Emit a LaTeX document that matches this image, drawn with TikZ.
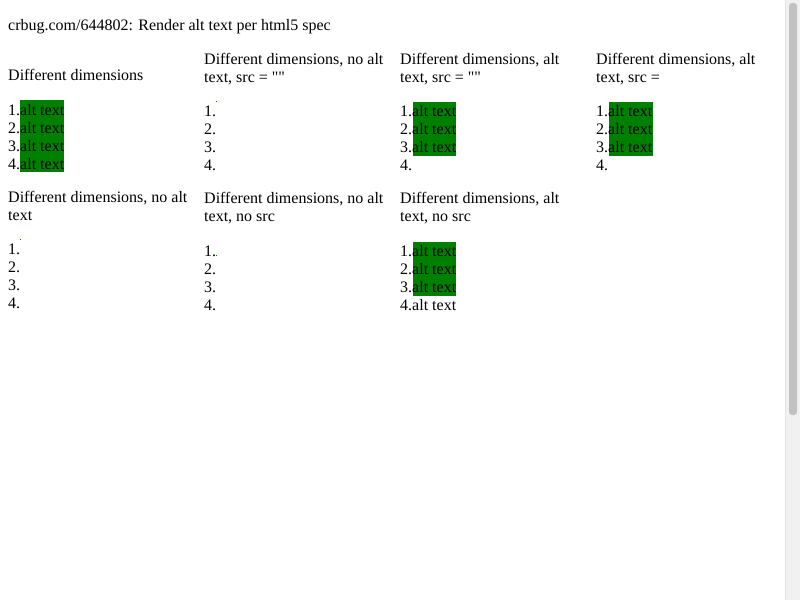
\documentclass[tikz,border=0pt]{standalone}
\usepackage{fontspec}
\setmainfont{Liberation Serif}
\newfontfamily\rawserif{Liberation Serif}
\definecolor{altgreen}{HTML}{008000}
\definecolor{track}{HTML}{F1F1F1}
\definecolor{trackline}{HTML}{E4E4E4}
\definecolor{thumb}{HTML}{C1C1C1}
\newcommand{\dq}{{\rawserif\symbol{34}}}
\tikzset{
  txt/.style={anchor=base west, inner sep=0pt, font=\fontsize{16}{18}\selectfont},
  gbox/.style={fill=altgreen, draw=none},
  gdot/.style={fill=altgreen, draw=none},
}
\begin{document}
\begin{tikzpicture}[x=1pt,y=-1pt]
\useasboundingbox (0,0) rectangle (800,600);
\fill[white] (0,0) rectangle (800,600);
% scrollbar
\fill[track] (785,0) rectangle (800,600);
\draw[trackline, line width=1pt] (785.5,0) -- (785.5,600);
\fill[thumb, rounded corners=3pt] (789,3) rectangle (797,415);
% title
\node[txt] (title) at (8,30) {crbug.com/644802: Render alt text per html5 spec};
% green boxes
\fill[gbox] (20,100) rectangle (64,172);
\fill[gbox] (413,102) rectangle (456,156);
\fill[gbox] (609,102) rectangle (653,156);
\fill[gbox] (413,242) rectangle (456,296);
% green dots
\fill[gdot] (216,101) rectangle (217,102);
\fill[gdot] (20,239) rectangle (21,240);
\fill[gdot] (216,255) rectangle (217,256);
% column 1 row 1
\node[txt] (h11) at (8,80) {Different dimensions};
\node[txt] (a1) at (8,115) {1.alt text};
\node[txt] (a2) at (8,133) {2.alt text};
\node[txt] (a3) at (8,151) {3.alt text};
\node[txt] (a4) at (8,169) {4.alt text};
% column 2 row 1
\node[txt] (h12a) at (204,64) {Different dimensions, no alt};
\node[txt] (h12b) at (204,82) {text, src = \dq\dq};
\node[txt] (b1) at (204,116) {1.};
\node[txt] (b2) at (204,134) {2.};
\node[txt] (b3) at (204,152) {3.};
\node[txt] (b4) at (204,170) {4.};
% column 3 row 1
\node[txt] (h13a) at (400,64) {Different dimensions, alt};
\node[txt] (h13b) at (400,82) {text, src = \dq\dq};
\node[txt] (c1) at (400,116) {1.alt text};
\node[txt] (c2) at (400,134) {2.alt text};
\node[txt] (c3) at (400,152) {3.alt text};
\node[txt] (c4) at (400,170) {4.};
% column 4 row 1
\node[txt] (h14a) at (596,64) {Different dimensions, alt};
\node[txt] (h14b) at (596,82) {text, src =};
\node[txt] (d1) at (596,116) {1.alt text};
\node[txt] (d2) at (596,134) {2.alt text};
\node[txt] (d3) at (596,152) {3.alt text};
\node[txt] (d4) at (596,170) {4.};
% column 1 row 2
\node[txt] (h21a) at (8,202) {Different dimensions, no alt};
\node[txt] (h21b) at (8,220) {text};
\node[txt] (e1) at (8,254) {1.};
\node[txt] (e2) at (8,272) {2.};
\node[txt] (e3) at (8,290) {3.};
\node[txt] (e4) at (8,308) {4.};
% column 2 row 2
\node[txt] (h22a) at (204,203) {Different dimensions, no alt};
\node[txt] (h22b) at (204,221) {text, no src};
\node[txt] (f1) at (204,256) {1.};
\node[txt] (f2) at (204,274) {2.};
\node[txt] (f3) at (204,292) {3.};
\node[txt] (f4) at (204,310) {4.};
% column 3 row 2
\node[txt] (h23a) at (400,203) {Different dimensions, alt};
\node[txt] (h23b) at (400,221) {text, no src};
\node[txt] (g1) at (400,256) {1.alt text};
\node[txt] (g2) at (400,274) {2.alt text};
\node[txt] (g3) at (400,292) {3.alt text};
\node[txt] (g4) at (400,310) {4.alt text};
\end{tikzpicture}
\end{document}
